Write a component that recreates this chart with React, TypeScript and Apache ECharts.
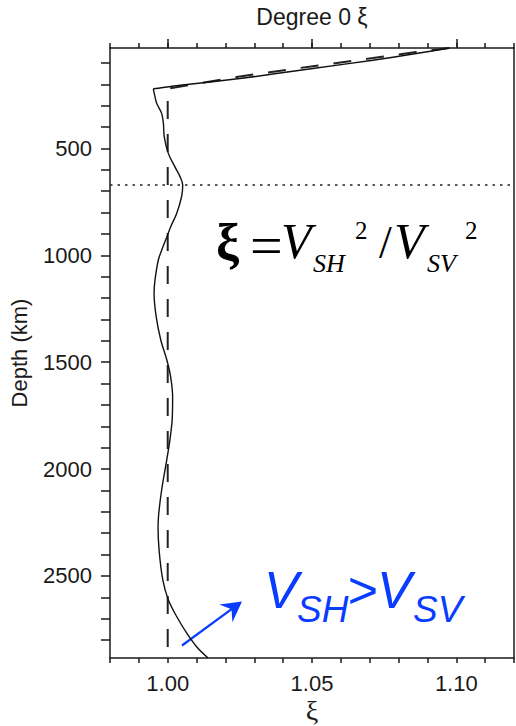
import React, { useEffect, useRef } from 'react';
import * as echarts from 'echarts';

// Upper-mantle gradient of the model (xi vs depth, km)
const xiTop = [1.0976, 1.0861, 1.0711, 1.0503, 1.025, 1.0043, 0.995];
const depthTop = [30, 56, 87, 126, 173, 204, 221];

// Model below 220 km
const depthModel = [221, 240, 270, 290, 336, 383, 446, 523, 586, 633, 672, 726, 804, 867, 914, 976, 1022, 1115, 1178, 1287, 1396, 1490, 1568, 1662, 1755, 1860, 1958, 2098, 2207, 2270, 2378, 2519, 2612, 2690, 2768, 2831, 2884];
const xiModel = [0.995, 0.9953, 0.9958, 0.9962, 0.9979, 0.9985, 0.9988, 1.0002, 1.0025, 1.0043, 1.0052, 1.0048, 1.0031, 1.001, 0.9997, 0.9979, 0.99675, 0.9956, 0.99527, 0.996, 0.9976, 0.9997, 1.001, 1.0017, 1.0016, 1.0008, 0.99965, 0.9979, 0.9969, 0.99665, 0.997, 0.9983, 1.0002, 1.0031, 1.0066, 1.01, 1.014];

// Reference (PREM) xi, dashed
const xiRef = [1.0976, 1.0861, 1.0711, 1.0503, 1.025, 1.0, 1.0];
const depthRef = [30, 49, 77, 115, 163, 220, 2884];

const transitionDepth = 670;

const xLabelTicks = [1.0, 1.05, 1.1];
const xMinorTicks = [0.98, 0.99, 1.0, 1.01, 1.02, 1.03, 1.04, 1.05, 1.06, 1.07, 1.08, 1.09, 1.1, 1.11, 1.12];
const depthLabelTicks = [500, 1000, 1500, 2000, 2500];
const depthTicks = [100, 200, 300, 400, 500, 600, 700, 800, 900, 1000, 1100, 1200, 1300, 1400, 1500, 1600, 1700, 1800, 1900, 2000, 2100, 2200, 2300, 2400, 2500, 2600, 2700, 2800];

const X_MIN = 0.98;
const X_MAX = 1.12;
const D_MIN = 30;
const D_MAX = 2884;

const INK = '#1a1a1a';
const BLUE = '#0a3cff';
const SANS = 'Liberation Sans, Arial, Helvetica, sans-serif';
const SERIF = 'Liberation Serif, Times New Roman, serif';

function serifText(text: string, x: number, baseline: number, size: number, italic: boolean, bold = false) {
  return {
    type: 'text',
    x,
    y: baseline - 0.3375 * size,
    silent: true,
    style: {
      text,
      fontSize: size,
      fontFamily: SERIF,
      fontStyle: italic ? 'italic' : 'normal',
      fontWeight: bold ? 'bold' : 'normal',
      fill: '#000',
      align: 'left',
      verticalAlign: 'middle',
    },
  };
}

function sansBlue(text: string, x: number, baseline: number, size: number) {
  return {
    type: 'text',
    x,
    y: baseline - 0.3465 * size,
    silent: true,
    style: {
      text,
      fontSize: size,
      fontFamily: SANS,
      fontStyle: 'italic',
      fill: BLUE,
      align: 'left',
      verticalAlign: 'middle',
    },
  };
}

export default function App() {
  const ref = useRef<HTMLDivElement>(null);

  useEffect(() => {
    if (!ref.current) return;
    const chart = echarts.init(ref.current, null, { renderer: 'svg' });

    const axisLine = { show: true, onZero: false, lineStyle: { color: INK, width: 1.5 } };
    const tickStyle = { color: INK, width: 1.5 };

    const option: any = {
      animation: false,
      backgroundColor: '#fff',
      grid: {
        left: 110,
        right: 2,
        top: 48,
        bottom: 68,
        show: false,
        containLabel: false,
        outerBoundsMode: 'none',
      },
      xAxis: [
        {
          type: 'value',
          position: 'bottom',
          min: X_MIN,
          max: X_MAX,
          name: 'ξ',
          nameLocation: 'middle',
          nameGap: 38,
          nameMoveOverlap: false,
          nameTextStyle: { fontFamily: SERIF, fontSize: 28, color: INK },
          axisLine,
          axisTick: { show: true, inside: false, length: 5, customValues: xMinorTicks, lineStyle: tickStyle },
          axisLabel: {
            show: true,
            customValues: xLabelTicks,
            formatter: (v: number) => v.toFixed(2),
            margin: 14,
            fontSize: 22,
            fontFamily: SANS,
            color: INK,
            hideOverlap: false,
          },
          splitLine: { show: false },
        },
        {
          type: 'value',
          position: 'top',
          min: X_MIN,
          max: X_MAX,
          name: 'Degree 0 ξ',
          nameLocation: 'middle',
          nameGap: 20,
          nameMoveOverlap: false,
          nameTextStyle: { fontFamily: SANS, fontSize: 23, color: INK },
          axisLine,
          axisTick: { show: true, inside: false, length: 5, customValues: xMinorTicks, lineStyle: tickStyle },
          axisLabel: { show: false },
          splitLine: { show: false },
        },
        {
          type: 'value',
          position: 'top',
          min: X_MIN,
          max: X_MAX,
          axisLine: { show: false },
          axisTick: { show: true, inside: false, length: 9, customValues: xLabelTicks, lineStyle: tickStyle },
          axisLabel: { show: false },
          splitLine: { show: false },
        },
      ],
      yAxis: [
        {
          type: 'value',
          position: 'left',
          inverse: true,
          min: D_MIN,
          max: D_MAX,
          name: 'Depth (km)',
          nameLocation: 'middle',
          nameGap: 80,
          nameMoveOverlap: false,
          nameTextStyle: { fontFamily: SANS, fontSize: 22, color: INK },
          axisLine,
          axisTick: { show: true, inside: false, length: 9, customValues: depthTicks, lineStyle: tickStyle },
          axisLabel: {
            show: true,
            customValues: depthLabelTicks,
            formatter: (v: number) => String(Math.round(v)),
            margin: 18,
            fontSize: 22,
            fontFamily: SANS,
            color: INK,
            hideOverlap: false,
          },
          splitLine: { show: false },
        },
        {
          type: 'value',
          position: 'right',
          inverse: true,
          min: D_MIN,
          max: D_MAX,
          axisLine,
          axisTick: { show: false },
          axisLabel: { show: false },
          splitLine: { show: false },
        },
      ],
      series: [
        {
          type: 'line',
          name: 'reference',
          xAxisIndex: 0,
          yAxisIndex: 0,
          data: xiRef.map((x, i) => [x, depthRef[i]]),
          symbol: 'none',
          showSymbol: false,
          silent: true,
          lineStyle: { color: '#222', width: 2, type: [18, 15] },
          z: 2,
        },
        {
          type: 'line',
          name: 'gradient',
          xAxisIndex: 0,
          yAxisIndex: 0,
          data: xiTop.map((x, i) => [x, depthTop[i]]),
          symbol: 'none',
          showSymbol: false,
          silent: true,
          smooth: 0.2,
          lineStyle: { color: '#111', width: 1.5 },
          z: 3,
          markLine: {
            silent: true,
            symbol: ['none', 'none'],
            label: { show: false },
            lineStyle: { color: '#222', width: 1.5, type: [2.5, 5] },
            data: [{ yAxis: transitionDepth }],
          },
        },
        {
          type: 'line',
          name: 'model',
          xAxisIndex: 0,
          yAxisIndex: 0,
          data: xiModel.map((x, i) => [x, depthModel[i]]),
          symbol: 'none',
          showSymbol: false,
          silent: true,
          smooth: 0.35,
          lineStyle: { color: '#111', width: 1.4 },
          z: 3,
        },
      ],
      graphic: [
        // formula: xi = V_SH^2 / V_SV^2
        serifText('ξ', 216, 260, 52, false, true),
        serifText('=', 250, 265, 58, false),
        serifText('V', 281, 258, 50, true),
        serifText('SH', 313, 272, 26, true),
        serifText('2', 355, 239, 25, false),
        serifText('/', 379, 258, 46, false),
        serifText('V', 394, 258, 50, true),
        serifText('SV', 427, 272, 26, true),
        serifText('2', 465, 239, 25, false),
        // blue annotation
        sansBlue('V', 264, 608, 52),
        sansBlue('SH', 297, 622, 37),
        sansBlue('>', 347, 608, 52),
        sansBlue('V', 377, 608, 52),
        sansBlue('SV', 413, 622, 37),
        {
          type: 'line',
          silent: true,
          shape: { x1: 182, y1: 645.5, x2: 236, y2: 605.8 },
          style: { stroke: BLUE, lineWidth: 2.2 },
        },
        {
          type: 'polygon',
          silent: true,
          shape: { points: [[242, 601.5], [219.4, 604.4], [231.5, 609.2], [232.4, 622.2]] },
          style: { fill: BLUE },
        },
      ],
    };

    chart.setOption(option);
    return () => chart.dispose();
  }, []);

  return (
    <div
      ref={ref}
      style={{ position: 'absolute', left: 0, top: 0, width: 516, height: 726, background: '#fff' }}
    />
  );
}
